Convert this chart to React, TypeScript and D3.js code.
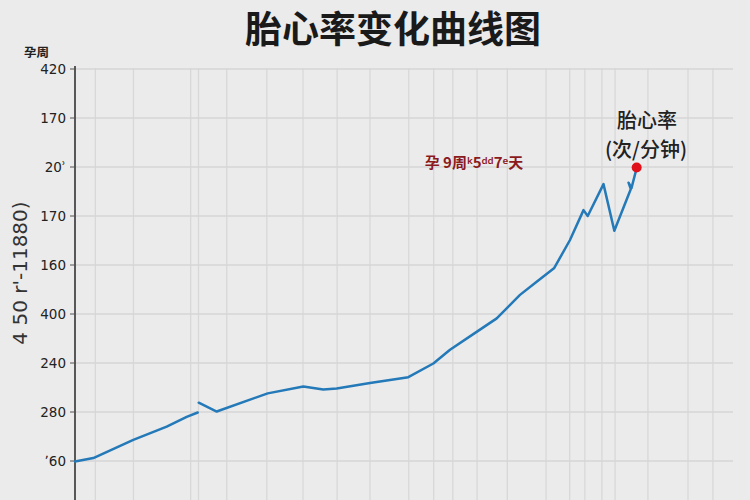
import React from "react";
import * as d3 from "d3";

const yTickLabels = ["ʼ60", "280", "240", "400", "160", "170", "20ʾ", "170", "420"];
const yTickValues = [0, 1, 2, 3, 4, 5, 6, 7, 8];
const xGridValues = [3.1, 8.9, 17.6, 18.8, 23.1, 29.2, 34.7, 39.9, 44.9, 50.8, 54.6, 57.5, 61.2, 65.8, 71.7, 75.3, 77.6, 80.2, 82.2, 87.2, 93.3, 97.1];

const seg1X = [0, 2.79, 8.87, 13.96, 17.0, 18.68];
const seg1Y = [-0.01, 0.06, 0.43, 0.7, 0.9, 0.99];

const seg2X = [18.83, 21.57, 29.33, 34.75, 37.79, 39.83, 44.9, 50.73, 54.54, 57.08, 60.62, 64.19, 67.73, 70.27, 72.95, 75.34, 77.4, 78.04, 80.44, 82.09, 84.6, 84.25, 84.7, 85.49];
const seg2Y = [1.19, 1.01, 1.38, 1.52, 1.46, 1.48, 1.59, 1.71, 1.99, 2.27, 2.59, 2.91, 3.39, 3.66, 3.94, 4.51, 5.12, 5.0, 5.65, 4.7, 5.55, 5.68, 5.57, 5.98];

const markerX = 85.49;
const markerY = 5.99;

const title = "胎心率变化曲线图";
const yTopLabel = "孕周";
const yAxisTitle = "4 50 r'-11880)";
const noteText = "孕 9周ᵏ5ᵈᵈ7ᵉ天";
const seriesLabel1 = "胎心率";
const seriesLabel2 = "(次/分钟)";

export default function App() {
  const W = 750;
  const H = 500;
  const x = d3.scaleLinear().domain([0, 100]).range([75, 732]);
  const y = d3.scaleLinear().domain([0, 8]).range([461, 69]);
  const yBottom = H;
  const line = d3
    .line<[number, number]>()
    .x((d) => x(d[0]))
    .y((d) => y(d[1]));
  const s1: [number, number][] = seg1X.map((v, i) => [v, seg1Y[i]]);
  const s2: [number, number][] = seg2X.map((v, i) => [v, seg2Y[i]]);
  const cjk = "'Noto Sans CJK SC', 'Noto Sans', sans-serif";
  const latin = "'DejaVu Sans', 'Noto Sans', sans-serif";

  return (
    <div style={{ position: "absolute", left: 0, top: 0, width: W, height: H }}>
      <svg width={W} height={H} style={{ display: "block" }}>
        <rect x={0} y={0} width={W} height={H} fill="#ebebeb" />
        {xGridValues.map((v, i) => (
          <line key={"gx" + i} x1={x(v)} x2={x(v)} y1={y(8) - 1} y2={yBottom} stroke="#d8d8d8" strokeWidth={1.3} />
        ))}
        {yTickValues.map((v, i) => (
          <line key={"gy" + i} x1={x(0)} x2={733} y1={y(v)} y2={y(v)} stroke="#d6d6d6" strokeWidth={1.5} />
        ))}
        <line x1={x(0)} x2={x(0)} y1={y(8) - 3} y2={yBottom} stroke="#333" strokeWidth={1.6} />
        {yTickValues.map((v, i) => (
          <g key={"t" + i}>
            <line x1={x(0) - 5} x2={x(0)} y1={y(v)} y2={y(v)} stroke="#555" strokeWidth={1} />
            <text x={66} y={y(v)} dy="0.35em" textAnchor="end" fontFamily={latin} fontSize={13.5} fill="#222">
              {yTickLabels[i]}
            </text>
          </g>
        ))}
        <path d={line(s1) || ""} fill="none" stroke="#2479b8" strokeWidth={2.5} strokeLinejoin="round" strokeLinecap="round" />
        <path d={line(s2) || ""} fill="none" stroke="#2479b8" strokeWidth={2.5} strokeLinejoin="round" strokeLinecap="round" />
        <circle cx={x(markerX)} cy={y(markerY)} r={5} fill="#e0101a" />
        <text x={393} y={43} textAnchor="middle" fontFamily={cjk} fontWeight={700} fontSize={37} fill="#1a1a1a">
          {title}
        </text>
        <text x={24} y={57} fontFamily={cjk} fontWeight={700} fontSize={12.5} fill="#222">
          {yTopLabel}
        </text>
        <text
          transform="translate(27,273) rotate(-90)"
          textAnchor="middle"
          fontFamily={latin}
          fontSize={20}
          fill="#333"
        >
          {yAxisTitle}
        </text>
        <text x={474} y={168} textAnchor="middle" fontFamily={cjk} fontWeight={600} fontSize={15} fill="#8b1a1e">
          {noteText}
        </text>
        <text x={647} y={128} textAnchor="middle" fontFamily={cjk} fontWeight={500} fontSize={20} fill="#222">
          {seriesLabel1}
        </text>
        <text x={646} y={157} textAnchor="middle" fontFamily={cjk} fontWeight={500} fontSize={20} fill="#222">
          {seriesLabel2}
        </text>
      </svg>
    </div>
  );
}
